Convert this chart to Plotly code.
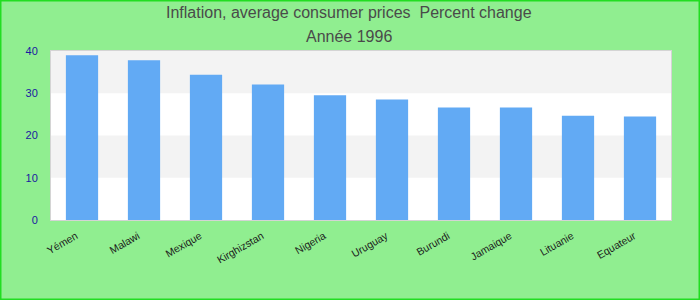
import plotly.graph_objects as go

countries = ["Yémen", "Malawi", "Mexique", "Kirghizstan", "Nigeria",
             "Uruguay", "Burundi", "Jamaique", "Lituanie", "Equateur"]
values = [39.0, 37.8, 34.4, 32.1, 29.5, 28.5, 26.6, 26.6, 24.7, 24.5]
y_ticks = [0, 10, 20, 30, 40]
title_line1 = "Inflation, average consumer prices  Percent change"
title_line2 = "Année 1996"

W, H = 700, 300
ML, MR, MT, MB = 51, 29, 51, 80
PW, PH = W - ML - MR, H - MT - MB

fig = go.Figure(go.Bar(
    x=countries, y=values,
    marker=dict(color="#62aaf4", line=dict(width=0)),
    hoverinfo="x+y",
))

shapes = []
for lo, hi in [(10, 20), (30, 40)]:
    shapes.append(dict(type="rect", xref="paper", yref="y", x0=0, x1=1, y0=lo, y1=hi,
                       fillcolor="#f3f3f3", line=dict(width=0), layer="below"))
# outer green border
shapes.append(dict(type="rect", xref="paper", yref="paper",
                   x0=(-ML + 0.75) / PW, x1=(W - ML - 0.75) / PW,
                   y0=(-MB + 0.75) / PH, y1=(H - MB - 0.75) / PH,
                   line=dict(color="#22dd22", width=1.5), fillcolor="rgba(0,0,0,0)"))

tx = (349 - ML) / PW
fig.update_layout(
    width=W, height=H,
    margin=dict(l=ML, r=MR, t=MT, b=MB, pad=0),
    paper_bgcolor="#90ee90",
    plot_bgcolor="#ffffff",
    bargap=0.48,
    showlegend=False,
    font=dict(family="Liberation Sans, Arial, sans-serif"),
    shapes=shapes,
    annotations=[
        dict(text=title_line1, xref="paper", yref="paper", x=tx, y=(H - MB - 13) / PH,
             xanchor="center", yanchor="middle", showarrow=False,
             font=dict(size=16, color="#4a4a4a")),
        dict(text=title_line2, xref="paper", yref="paper", x=tx, y=(H - MB - 36) / PH,
             xanchor="center", yanchor="middle", showarrow=False,
             font=dict(size=16, color="#4a4a4a")),
    ],
    xaxis=dict(
        tickangle=-30, tickfont=dict(size=10.5, color="#1a1a1a"),
        showline=True, linecolor="#d4d4d4", linewidth=1, mirror=True,
        showgrid=False, ticks="", ticklabelstandoff=5, ticklabelshift=-6,
    ),
    yaxis=dict(
        range=[0, 40], tickvals=y_ticks, ticktext=[str(v) for v in y_ticks],
        tickfont=dict(size=11, color="#1a1aa0"),
        showline=True, linecolor="#d4d4d4", linewidth=1, mirror=True,
        showgrid=False, zeroline=False, ticks="", ticklabelstandoff=10,
    ),
)

fig.write_html("out.html")
